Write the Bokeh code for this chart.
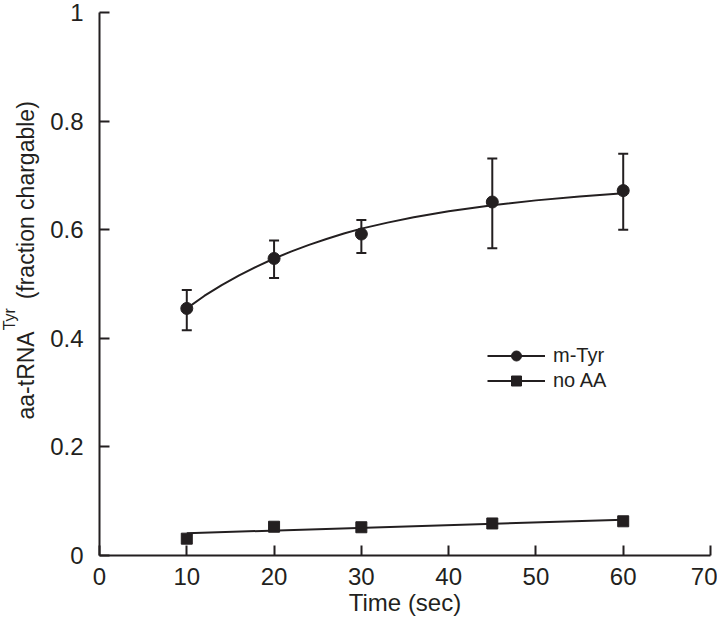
from bokeh.plotting import figure
from bokeh.models import Range1d, FixedTicker, Title, Legend, LegendItem
from bokeh.embed import file_html
from bokeh.resources import INLINE

# ---- data ----
time_mtyr = [10, 20, 30, 45, 60]
mtyr = [0.455, 0.547, 0.592, 0.651, 0.672]
mtyr_lo = [0.415, 0.511, 0.557, 0.566, 0.600]
mtyr_hi = [0.489, 0.580, 0.618, 0.731, 0.740]

time_noaa = [10, 20, 30, 45, 60]
noaa = [0.031, 0.053, 0.052, 0.059, 0.063]

# fitted curves as drawn in the reference
fit_mtyr_t = [10, 12, 14, 16, 18, 20, 22, 24, 26, 28, 30, 33, 36, 40, 45, 50, 55, 60]
fit_mtyr_y = [0.455, 0.478, 0.498, 0.516, 0.532, 0.547, 0.560, 0.572, 0.583, 0.593,
              0.602, 0.613, 0.623, 0.634, 0.645, 0.654, 0.661, 0.667]
fit_noaa_t = [10, 60]
fit_noaa_y = [0.041, 0.066]

x_ticks = [0, 10, 20, 30, 40, 50, 60, 70]
y_ticks = [0, 0.2, 0.4, 0.6, 0.8, 1.0]
y_tick_labels = ["0", "0.2", "0.4", "0.6", "0.8", "1"]

INK = "#231f20"
FONT = "Liberation Sans"

W, H = 717, 624
p = figure(width=W, height=H, output_backend="svg", toolbar_location=None,
           x_range=Range1d(0, 70), y_range=Range1d(0, 1),
           min_border_left=97, min_border_right=7, min_border_top=12,
           min_border_bottom=69)
p.outline_line_color = None
p.xgrid.visible = False
p.ygrid.visible = False
p.background_fill_color = "white"
p.border_fill_color = "white"

# error bars
p.segment(x0=time_mtyr, y0=mtyr_lo, x1=time_mtyr, y1=mtyr_hi, line_width=2, line_color=INK)
p.scatter(x=time_mtyr + time_mtyr, y=mtyr_lo + mtyr_hi, marker="dash", size=10,
          line_width=2, line_color=INK)

# fits
l1 = p.line(fit_mtyr_t, fit_mtyr_y, line_width=2, line_color=INK)
l2 = p.line(fit_noaa_t, fit_noaa_y, line_width=2, line_color=INK)

# points
c1 = p.scatter(time_mtyr, mtyr, marker="circle", size=12, fill_color=INK, line_color=INK)
s1 = p.scatter(time_noaa, noaa, marker="square", size=11, fill_color=INK, line_color=INK)

# axes
p.xaxis.ticker = FixedTicker(ticks=x_ticks)
p.yaxis.ticker = FixedTicker(ticks=y_ticks)
p.yaxis.major_label_overrides = {v: s for v, s in zip(y_ticks, y_tick_labels)}
for ax in (p.xaxis, p.yaxis):
    ax.axis_line_width = 2
    ax.axis_line_color = INK
    ax.major_tick_line_width = 2
    ax.major_tick_line_color = INK
    ax.major_tick_in = 10
    ax.major_tick_out = 0
    ax.minor_tick_in = 0
    ax.minor_tick_out = 0
    ax.major_label_text_font = FONT
    ax.major_label_text_font_size = "24px"
    ax.major_label_text_color = INK
p.yaxis.major_label_standoff = 16
p.xaxis.major_label_standoff = 12

p.xaxis.axis_label = "Time (sec)"
p.xaxis.axis_label_standoff = 1
p.xaxis.axis_label_text_font = FONT
p.xaxis.axis_label_text_font_size = "24px"
p.xaxis.axis_label_text_font_style = "normal"
p.xaxis.axis_label_text_color = INK

# spacer between the tick labels and the y title
p.yaxis.axis_label = "\u00a0"
p.yaxis.axis_label_text_font_size = "1px"
p.yaxis.axis_label_standoff = 9

# y-axis title with a superscript: two titles on the left side
fs_main = 23
fs_sup = 16
start_y = 414            # where the title text begins (image px from top)
w1 = 3.834 * fs_main     # width of "aa-tRNA"
frame_bottom = 12 + 543
main_title = Title(text="aa-tRNA" + "\u00a0" * 5 + "(fraction chargable)",
                   align="left", vertical_align="top",
                   offset=(frame_bottom - 5) - start_y, standoff=-13,
                   text_font=FONT, text_font_size=f"{fs_main}px",
                   text_font_style="normal", text_color=INK)
sup_title = Title(text="Tyr", align="left", vertical_align="top",
                  offset=(frame_bottom - 5) - (start_y - w1) + 1, standoff=0,
                  text_font=FONT, text_font_size=f"{fs_sup}px",
                  text_font_style="normal", text_color=INK)
p.add_layout(main_title, "left")
p.add_layout(sup_title, "left")

legend = Legend(items=[LegendItem(label="m-Tyr", renderers=[l1, c1]),
                       LegendItem(label="no AA", renderers=[l2, s1])],
                location=(388, 162), padding=0, margin=0, spacing=0,
                glyph_width=58, glyph_height=25, label_height=25, label_standoff=8,
                label_text_font=FONT, label_text_font_size="20px",
                label_text_color=INK, border_line_alpha=0, background_fill_alpha=0)
p.add_layout(legend)

open("out.html", "w").write(file_html(p, INLINE))
